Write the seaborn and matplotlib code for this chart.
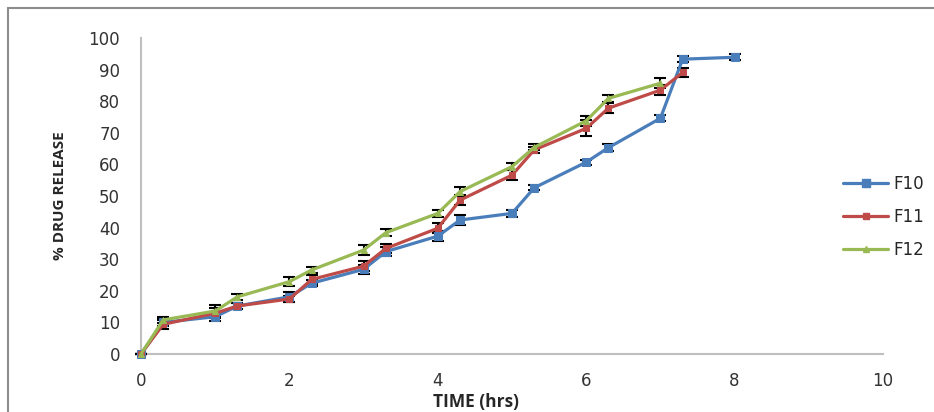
import numpy as np
import pandas as pd
import seaborn as sns
import matplotlib
matplotlib.use('Agg')
import matplotlib.pyplot as plt
from matplotlib.patches import Rectangle
from matplotlib.lines import Line2D

# time points (hrs)
time_f10 = [0, 0.3, 1, 1.3, 2, 2.3, 3, 3.3, 4, 4.3, 5, 5.3, 6, 6.3, 7, 7.3, 8]
time_f11 = time_f10[:16]
time_f12 = time_f10[:15]

# % drug release
f10 = [0, 10.0, 11.8, 15.2, 18.1, 22.4, 26.8, 32.4, 37.3, 42.4, 44.5, 52.6, 60.7, 65.3, 74.6, 93.3, 93.9]
f11 = [0, 9.4, 12.9, 15.2, 17.4, 23.6, 27.8, 33.4, 39.8, 48.7, 56.6, 64.6, 71.4, 77.8, 83.5, 89.1]
f12 = [0, 10.8, 13.6, 18.1, 22.9, 26.6, 32.9, 38.4, 44.5, 51.4, 59.3, 65.4, 73.8, 80.9, 85.7]

# standard deviations
sd_f10 = [0, 1.0, 1.5, 1.0, 1.5, 1.0, 1.5, 1.5, 1.5, 1.5, 1.0, 0.8, 0.8, 1.0, 1.0, 1.0, 1.0]
sd_f11 = [0, 1.5, 1.5, 1.0, 1.0, 1.5, 1.5, 1.5, 1.5, 1.5, 1.5, 1.0, 2.5, 1.5, 1.5, 1.5]
sd_f12 = [0, 1.0, 2.0, 1.0, 1.5, 1.0, 1.5, 1.0, 1.0, 1.5, 1.0, 1.0, 1.5, 1.0, 1.5]

series = ['F10', 'F11', 'F12']
colors = {'F10': '#4A7EBB', 'F11': '#BE4B48', 'F12': '#98B954'}
markers = {'F10': 's', 'F11': 's', 'F12': '^'}
msizes = {'F10': 6, 'F11': 4, 'F12': 5}

df = pd.concat([
    pd.DataFrame({'time': time_f10, 'release': f10, 'sd': sd_f10, 'form': 'F10'}),
    pd.DataFrame({'time': time_f11, 'release': f11, 'sd': sd_f11, 'form': 'F11'}),
    pd.DataFrame({'time': time_f12, 'release': f12, 'sd': sd_f12, 'form': 'F12'}),
])

sns.set_style('white')
plt.rcParams['font.family'] = ['DejaVu Sans']

fig = plt.figure(figsize=(9.34, 4.12), dpi=100)
ax = fig.add_axes([141 / 934, 1 - 354 / 412, (883 - 141) / 934, (354 - 38) / 412])

for name in series:
    sub = df[df['form'] == name]
    ax.errorbar(sub['time'], sub['release'], yerr=sub['sd'], fmt='none',
                ecolor='black', elinewidth=1.5, capsize=4, capthick=1.5, zorder=3)
    sns.lineplot(data=sub, x='time', y='release', ax=ax, color=colors[name],
                 marker=markers[name], markersize=msizes[name],
                 markeredgecolor=colors[name], linewidth=2.3, zorder=4,
                 estimator=None, sort=False)

ax.set_xlim(0, 10)
ax.set_ylim(0, 100)
ax.set_xticks(np.arange(0, 11, 2))
ax.set_yticks(np.arange(0, 101, 10))
ax.tick_params(axis='x', length=0, labelsize=12, colors='#333333', pad=13)
ax.tick_params(axis='y', length=0, labelsize=12, colors='#333333', pad=15)
for side in ['top', 'right']:
    ax.spines[side].set_visible(False)
for side in ['left', 'bottom']:
    ax.spines[side].set_color('#BFBFBF')
    ax.spines[side].set_linewidth(1.5)
for ln in ax.lines:
    ln.set_clip_on(False)

ax.set_xlabel('TIME (hrs)', fontsize=12.5, fontweight='bold', family='Open Sans',
              va='center')
ax.xaxis.set_label_coords((476 - 141) / 742, -(402 - 354) / 316)
ax.set_ylabel('% DRUG RELEASE', fontsize=11, fontweight='bold', family='Open Sans',
              va='center')
ax.yaxis.set_label_coords((60 - 141) / 742, 0.5)

handles = [Line2D([0], [0], color=colors[n], marker=markers[n], markersize=msizes[n],
                  linewidth=2.3) for n in series]
fig.legend(handles, series, loc='upper left', bbox_to_anchor=(828 / 934, 1 - 160 / 412),
           frameon=False, fontsize=12, handlelength=2.7, labelspacing=0.89,
           handletextpad=0.3)

fig.patches.append(Rectangle((8 / 934, -0.1), 1.1, 1 - 8 / 412 + 0.1,
                             transform=fig.transFigure, fill=False,
                             edgecolor='#8C8C8C', linewidth=1.5))

fig.savefig('out.png', dpi=100)
